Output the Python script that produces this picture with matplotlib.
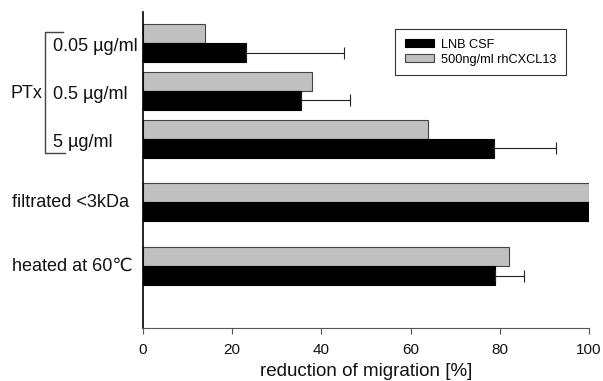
import matplotlib
matplotlib.use("Agg")
import matplotlib.pyplot as plt
from matplotlib.patches import Patch
from matplotlib.lines import Line2D
import numpy as np

plt.rcParams['font.family'] = ['Liberation Sans', 'DejaVu Sans']

# --- data ---
categories = ['0.05 µg/ml', '0.5 µg/ml', '5 µg/ml', 'filtrated <3kDa', 'heated at 60℃']
lnb_csf = [23, 35.5, 78.7, 100, 79]
lnb_csf_err = [22, 11, 14, 0, 6.5]
rhcxcl13 = [14, 38, 64, 100, 82]

# group positions (gap before the last two groups)
ypos = np.array([0, 1, 2, 3.33, 4.67])
h = 0.4

fig = plt.figure(figsize=(6.03, 3.81), dpi=100)
ax = fig.add_axes([143 / 603, 53 / 381, 446 / 603, 316 / 381])

ax.barh(ypos - h / 2, rhcxcl13, height=h, color='#c0c0c0', edgecolor='#444444', linewidth=0.8)
ax.barh(ypos + h / 2, lnb_csf, height=h, color='black', edgecolor='black', linewidth=0.8)

for i in range(len(categories)):
    if lnb_csf_err[i] > 0:
        ax.errorbar(lnb_csf[i], ypos[i] + h / 2, xerr=[[0], [lnb_csf_err[i]]],
                    fmt='none', ecolor='#222222', elinewidth=0.8, capsize=4, capthick=0.8)

ax.set_xlim(0, 100)
ax.set_ylim(5.96, -0.65)
ax.set_xticks([0, 20, 40, 60, 80, 100])
ax.tick_params(axis='x', labelsize=11, length=4, width=0.8, color='#555555', pad=7,
               labelcolor='#111111')
ax.set_yticks([])
ax.spines['top'].set_visible(False)
ax.spines['right'].set_visible(False)
ax.spines['left'].set_linewidth(1.2)
ax.spines['bottom'].set_color('#555555')
ax.set_xlabel('reduction of migration [%]', fontsize=13.5, labelpad=4, color='#111111')

# category labels
for i, lab in enumerate(categories):
    xx = -0.2018 if i < 3 else -0.2937
    yy = ypos[i] + (0.08 if i < 3 else 0)
    ax.text(xx, yy, lab, transform=ax.get_yaxis_transform(), ha='left', va='center',
            fontsize=13, color='#111111')

# PTx bracket
tr = fig.transFigure
bx = 45 / 603
ytop = 1 - 32 / 381
ybot = 1 - 153 / 381
fig.add_artist(Line2D([63 / 603, bx, bx, 65 / 603], [ytop, ytop, ybot, ybot],
                      transform=tr, color='#444444', linewidth=1))
fig.text(11 / 603, 1 - 93 / 381, 'PTx', ha='left', va='center', fontsize=13, color='#111111')

handles = [Patch(facecolor='black', edgecolor='black', linewidth=0.8, label='LNB CSF'),
           Patch(facecolor='#c0c0c0', edgecolor='#444444', linewidth=0.8, label='500ng/ml rhCXCL13')]
leg = ax.legend(handles=handles, loc='upper left', bbox_to_anchor=(0.565, 0.946),
                fontsize=9.2, frameon=True, fancybox=False, edgecolor='black',
                handlelength=2.27, handleheight=0.6, borderpad=0.75, labelspacing=0.25,
                handletextpad=0.55, borderaxespad=0)
leg.get_frame().set_linewidth(0.8)

fig.savefig('out.png', dpi=100)
